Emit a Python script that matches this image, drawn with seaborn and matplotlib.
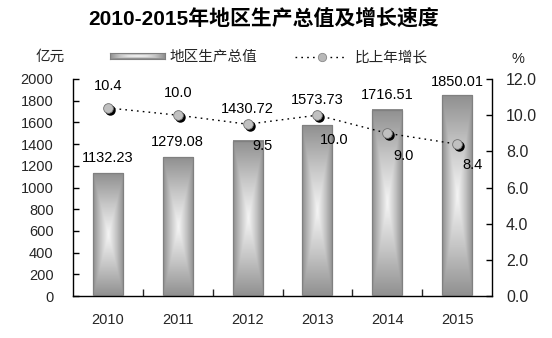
import numpy as np
import pandas as pd
import matplotlib
matplotlib.use("Agg")
import matplotlib.pyplot as plt
from matplotlib.colors import LinearSegmentedColormap
from matplotlib.lines import Line2D
from matplotlib.transforms import offset_copy
import seaborn as sns

# ---- data ----
years = ["2010", "2011", "2012", "2013", "2014", "2015"]
gdp = [1132.23, 1279.08, 1430.72, 1573.73, 1716.51, 1850.01]
growth = [10.4, 10.0, 9.5, 10.0, 9.0, 8.4]
gdp_ticks = list(range(0, 2001, 200))
growth_ticks = [0, 2, 4, 6, 8, 10, 12]

title = "2010-2015年地区生产总值及增长速度"
left_unit = "亿元"
right_unit = "%"
bar_name = "地区生产总值"
line_name = "比上年增长"

sns.set_style("white")
plt.rcParams["font.family"] = ["Liberation Sans", "Noto Sans CJK SC", "DejaVu Sans"]

W, H = 552, 338
fig = plt.figure(figsize=(W / 100, H / 100), dpi=100)


def fx(px):
    return px / W


def fy(py):
    return 1 - py / H


ax = fig.add_axes([fx(73), fy(296), fx(492 - 73), (296 - 79) / H])

df = pd.DataFrame({"year": years, "gdp": gdp})
sns.barplot(data=df, x="year", y="gdp", ax=ax, width=0.43, color="#bbbbbb",
            saturation=1, edgecolor="#808080", linewidth=0.9, zorder=2)

# rectangular "from centre" grey gradient for each bar
cmap = LinearSegmentedColormap.from_list("bargrad", ["#f5f5f5", "#c6c6c6", "#909090"])
u = np.linspace(-1, 1, 60)
v = np.linspace(-1, 1, 200)
U, V = np.meshgrid(u, v)
grad = np.maximum(np.abs(U), np.abs(V))
for p in ax.patches:
    x0, w, h = p.get_x(), p.get_width(), p.get_height()
    p.set_facecolor("none")
    p.set_zorder(3)
    ax.imshow(grad, extent=[x0, x0 + w, 0, h], aspect="auto", cmap=cmap,
              vmin=0, vmax=1, zorder=2, interpolation="bilinear")

ax.set_xlim(-0.5, len(years) - 0.5)
ax.set_ylim(0, 2000)
ax.set_yticks(gdp_ticks)
ax.set_xlabel("")
ax.set_ylabel("")

# axis styling
for s in ["left", "bottom"]:
    ax.spines[s].set_visible(True)
    ax.spines[s].set_color("black")
    ax.spines[s].set_linewidth(1.0)
ax.spines["top"].set_visible(False)
ax.spines["right"].set_visible(False)
ax.tick_params(axis="y", direction="in", length=4, width=1, pad=14,
               labelsize=10.5, color="black", left=True)
ax.tick_params(axis="x", which="major", length=0, pad=12, labelsize=10.5)
ax.set_xticks(np.arange(0.5, len(years) - 1, 1.0), minor=True)
ax.tick_params(axis="x", which="minor", direction="in", length=5, width=1, bottom=True)

# growth rate on the secondary axis
ax2 = ax.twinx()
xpos = np.arange(len(years))
sns.lineplot(x=xpos, y=growth, ax=ax2, color="black", linewidth=1.0,
             linestyle=(0, (1.2, 3.0)), zorder=3)
shadow = offset_copy(ax2.transData, fig=fig, x=2.0, y=-2.0, units="dots")
ax2.plot(xpos, growth, linestyle="none", marker="o", markersize=6.5,
         markerfacecolor="black", markeredgecolor="black", transform=shadow, zorder=4)
ax2.plot(xpos, growth, linestyle="none", marker="o", markersize=7,
         markerfacecolor="#c0c0c0", markeredgecolor="#707070", markeredgewidth=0.6, zorder=5)

label_offsets = [(0, 22), (0, 22), (15, -22), (17, -25), (16, -23), (15, -21)]
for i, (val, off) in enumerate(zip(growth, label_offsets)):
    ax2.annotate(f"{val:.1f}", xy=(i, val), xytext=off, textcoords="offset pixels",
                 ha="center", va="center", fontsize=10.5, color="black", zorder=6)

# value labels above the bars (drawn on the top axes so the line does not cover them)
bar_label_lift = [15, 15, 32, 25, 15, 13]
for i, (val, lift) in enumerate(zip(gdp, bar_label_lift)):
    ax2.annotate(f"{val:.2f}", xy=(i, val), xycoords=ax.transData,
                 xytext=(0, lift), textcoords="offset pixels",
                 ha="center", va="center", fontsize=10.5, color="black", zorder=6)

ax2.set_ylim(0, 12)
ax2.set_yticks(growth_ticks)
ax2.set_yticklabels([f"{t:.1f}" for t in growth_ticks])
ax2.set_ylabel("")
for s in ["left", "top", "bottom"]:
    ax2.spines[s].set_visible(False)
ax2.spines["right"].set_visible(True)
ax2.spines["right"].set_color("black")
ax2.spines["right"].set_linewidth(1.0)
ax2.tick_params(axis="y", direction="in", length=4, width=1, pad=10,
                labelsize=11.5, color="black", right=True)
ax2.grid(False)
ax.grid(False)

# title
fig.text(fx(264), fy(18), title, ha="center", va="center", fontsize=15,
         fontweight="bold", color="black")

# units
fig.text(fx(50), fy(57), left_unit, ha="center", va="center", fontsize=10.5,
         family=["Noto Sans CJK SC"])
fig.text(fx(518), fy(59), right_unit, ha="center", va="center", fontsize=10.5)

# legend: gradient bar swatch
lax = fig.add_axes([fx(110), fy(59), fx(55), 6 / H])
sw = np.maximum(np.abs(np.linspace(-1, 1, 7))[:, None],
                np.abs(np.linspace(-1, 1, 80))[None, :]) ** 1.5
lax.imshow(sw, aspect="auto", cmap=cmap, vmin=0, vmax=1, extent=[0, 1, 0, 1])
lax.set_xticks([])
lax.set_yticks([])
for s in lax.spines.values():
    s.set_color("#808080")
    s.set_linewidth(0.8)
fig.text(fx(170), fy(57), bar_name, ha="left", va="center", fontsize=10.5,
         family=["Noto Sans CJK SC"])

# legend: line with marker
fig.add_artist(Line2D([fx(295), fx(347)], [fy(57), fy(57)], transform=fig.transFigure,
                      color="black", linewidth=1.0, linestyle=(0, (1.2, 3.0))))
fig.add_artist(Line2D([fx(322)], [fy(57)], transform=fig.transFigure, linestyle="none",
                      marker="o", markersize=6, markerfacecolor="#b8b8b8",
                      markeredgecolor="#8a8a8a", markeredgewidth=0.6))
fig.text(fx(355), fy(57), line_name, ha="left", va="center", fontsize=10.5,
         family=["Noto Sans CJK SC"])

fig.savefig("out.png", dpi=100)
